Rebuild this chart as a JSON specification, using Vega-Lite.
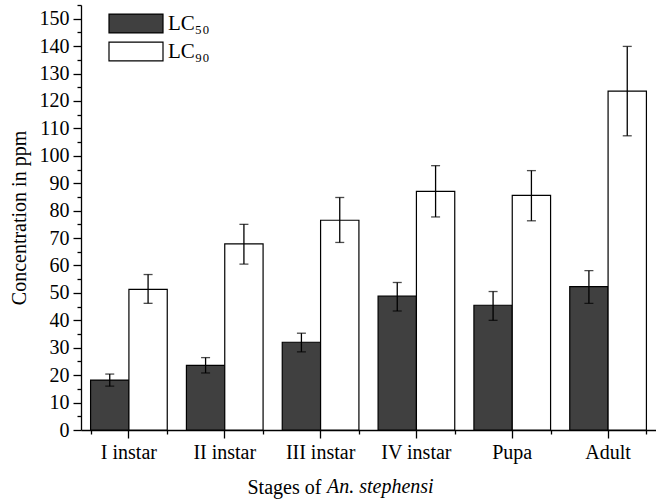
{
  "$schema": "https://vega.github.io/schema/vega-lite/v6.json",
  "width": 575,
  "height": 425,
  "autosize": {"type": "none"},
  "padding": {"left": 81, "top": 5, "right": 0, "bottom": 72},
  "background": "white",
  "title": {
    "text": "An. stephensi",
    "orient": "bottom",
    "anchor": "start",
    "frame": "group",
    "dx": 246,
    "offset": -4,
    "baseline": "alphabetic",
    "font": "Liberation Serif",
    "fontSize": 20,
    "fontStyle": "italic",
    "fontWeight": "normal",
    "color": "black"
  },
  "config": {
    "view": {"stroke": null},
    "font": "Liberation Serif",
    "axis": {
      "labelFont": "Liberation Serif",
      "titleFont": "Liberation Serif",
      "labelFontSize": 20,
      "titleFontSize": 20,
      "titleFontWeight": "normal",
      "labelColor": "black",
      "titleColor": "black",
      "domainColor": "black",
      "tickColor": "black",
      "domainWidth": 1.3,
      "tickWidth": 1.3,
      "grid": false
    }
  },
  "data": {
    "values": [
      {"stage": "I instar", "type": "LC₅₀", "value": 18.2, "lo": 16.0, "hi": 20.4},
      {"stage": "I instar", "type": "LC₉₀", "value": 51.3, "lo": 46.2, "hi": 56.7},
      {"stage": "II instar", "type": "LC₅₀", "value": 23.6, "lo": 20.8, "hi": 26.4},
      {"stage": "II instar", "type": "LC₉₀", "value": 67.9, "lo": 60.5, "hi": 75.0},
      {"stage": "III instar", "type": "LC₅₀", "value": 32.0, "lo": 28.5, "hi": 35.3},
      {"stage": "III instar", "type": "LC₉₀", "value": 76.5, "lo": 68.4, "hi": 84.8},
      {"stage": "IV instar", "type": "LC₅₀", "value": 48.8, "lo": 43.4, "hi": 53.8},
      {"stage": "IV instar", "type": "LC₉₀", "value": 87.0, "lo": 77.7, "hi": 96.4},
      {"stage": "Pupa", "type": "LC₅₀", "value": 45.5, "lo": 40.0, "hi": 50.5},
      {"stage": "Pupa", "type": "LC₉₀", "value": 85.6, "lo": 76.3, "hi": 94.6},
      {"stage": "Adult", "type": "LC₅₀", "value": 52.3, "lo": 46.2, "hi": 58.1},
      {"stage": "Adult", "type": "LC₉₀", "value": 123.6, "lo": 107.3, "hi": 139.9}
    ]
  },
  "encoding": {
    "x": {
      "field": "stage",
      "type": "nominal",
      "sort": ["I instar", "II instar", "III instar", "IV instar", "Pupa", "Adult"],
      "scale": {"paddingInner": 0.2, "paddingOuter": 0.1}
    },
    "xOffset": {"field": "type", "type": "nominal", "sort": ["LC₅₀", "LC₉₀"]}
  },
  "resolve": {"axis": {"x": "independent", "y": "independent"}},
  "layer": [
    {
      "mark": {"type": "bar", "stroke": "black", "strokeWidth": 1.2},
      "encoding": {
        "x": {
          "field": "stage",
          "type": "nominal",
          "sort": ["I instar", "II instar", "III instar", "IV instar", "Pupa", "Adult"],
          "axis": {
            "orient": "bottom",
            "title": "Stages of",
            "labelAngle": 0,
            "tickSize": 8,
            "labelPadding": 4,
            "titlePadding": 15,
            "titleX": 166,
            "titleAlign": "left"
          }
        },
        "y": {
          "field": "value",
          "type": "quantitative",
          "scale": {"domain": [0, 155], "nice": false},
          "axis": {
            "orient": "left",
            "title": "Concentration in ppm",
            "values": [0, 10, 20, 30, 40, 50, 60, 70, 80, 90, 100, 110, 120, 130, 140, 150],
            "tickSize": 8,
            "labelPadding": 4,
            "titlePadding": 10
          }
        },
        "color": {
          "field": "type",
          "type": "nominal",
          "sort": ["LC₅₀", "LC₉₀"],
          "scale": {"range": ["#404040", "#ffffff"]},
          "legend": {
            "title": null,
            "orient": "none",
            "legendX": 40.5,
            "legendY": 4,
            "padding": 0,
            "symbolType": "M-2,-0.7H2V0.7H-2Z",
            "symbolSize": 729,
            "symbolStrokeColor": "black",
            "symbolStrokeWidth": 1.2,
            "labelFont": "Liberation Serif",
            "labelFontSize": 21,
            "labelColor": "black",
            "labelOffset": 17.5,
            "rowPadding": 1
          }
        }
      }
    },
    {
      "mark": {"type": "rule", "color": "black", "strokeWidth": 1.3},
      "encoding": {
        "x": {"field": "stage", "type": "nominal", "sort": ["I instar", "II instar", "III instar", "IV instar", "Pupa", "Adult"], "axis": null},
        "y": {"field": "lo", "type": "quantitative", "axis": null},
        "y2": {"field": "hi"}
      }
    },
    {
      "mark": {"type": "tick", "color": "black", "thickness": 1.3, "size": 9},
      "encoding": {
        "x": {"field": "stage", "type": "nominal", "sort": ["I instar", "II instar", "III instar", "IV instar", "Pupa", "Adult"], "axis": null},
        "y": {"field": "lo", "type": "quantitative", "axis": null}
      }
    },
    {
      "mark": {"type": "tick", "color": "black", "thickness": 1.3, "size": 9},
      "encoding": {
        "x": {"field": "stage", "type": "nominal", "sort": ["I instar", "II instar", "III instar", "IV instar", "Pupa", "Adult"], "axis": null},
        "y": {"field": "hi", "type": "quantitative", "axis": null}
      }
    },
    {
      "mark": {"type": "tick", "opacity": 0},
      "encoding": {
        "x": {
          "field": "stage",
          "type": "nominal",
          "sort": ["I instar", "II instar", "III instar", "IV instar", "Pupa", "Adult"],
          "axis": {"orient": "bottom", "title": null, "labels": false, "domain": false, "tickBand": "extent", "tickSize": 4}
        },
        "y": {
          "field": "value",
          "type": "quantitative",
          "axis": {
            "orient": "left",
            "title": null,
            "labels": false,
            "domain": false,
            "tickSize": 4,
            "values": [5, 15, 25, 35, 45, 55, 65, 75, 85, 95, 105, 115, 125, 135, 145, 155]
          }
        }
      }
    }
  ]
}
